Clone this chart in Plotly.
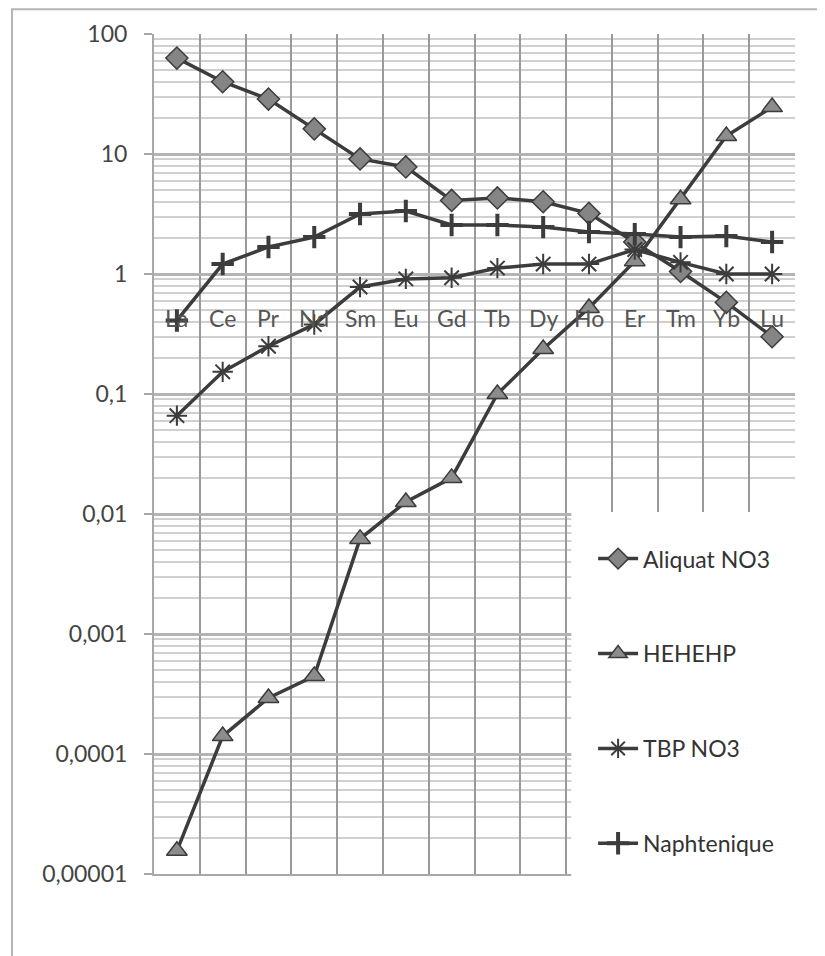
import plotly.graph_objects as go

categories = ["La", "Ce", "Pr", "Nd", "Sm", "Eu", "Gd", "Tb", "Dy", "Ho", "Er", "Tm", "Yb", "Lu"]

aliquat_no3 = [63, 40, 28.7, 16.2, 9.1, 7.8, 4.1, 4.3, 4.0, 3.2, 1.85, 1.05, 0.58, 0.30]
hehehp = [1.56e-5, 1.41e-4, 2.93e-4, 4.47e-4, 6.2e-3, 0.0126, 0.02, 0.10, 0.237, 0.52, 1.28, 4.2, 14.1, 24.6]
tbp_no3 = [0.066, 0.153, 0.25, 0.38, 0.78, 0.91, 0.93, 1.12, 1.21, 1.21, 1.6, 1.25, 1.0, 1.0]
naphtenique = [0.41, 1.21, 1.68, 2.03, 3.16, 3.35, 2.56, 2.56, 2.46, 2.24, 2.15, 2.03, 2.07, 1.85]

ytick_vals = [1e-5, 1e-4, 1e-3, 1e-2, 1e-1, 1, 10, 100]
ytick_text = ["0,00001", "0,0001", "0,001", "0,01", "0,1", "1", "10", "100"]
minor_vals = [m * d for d in [1e-5, 1e-4, 1e-3, 1e-2, 1e-1, 1, 10] for m in range(2, 10)]

LINE = "#3c3c3c"
FONT = "Lato, 'Open Sans', sans-serif"

series = [
    ("Aliquat NO3", aliquat_no3, dict(symbol="diamond", size=17, color="#858585", line=dict(color=LINE, width=1.5))),
    ("HEHEHP", hehehp, dict(symbol="triangle-up", size=18, color="#8c8c8c", line=dict(color=LINE, width=1.5))),
    ("TBP NO3", tbp_no3, dict(symbol="asterisk-open", size=17, color=LINE, line=dict(color=LINE, width=2))),
    ("Naphtenique", naphtenique, dict(symbol="cross-thin-open", size=16, color=LINE, line=dict(color=LINE, width=4))),
]

fig = go.Figure()
for i, (name, vals, mk) in enumerate(series):
    fig.add_trace(go.Scatter(
        x=categories, y=vals, name=name, mode="lines+markers",
        line=dict(color=LINE, width=3.5), marker=mk, legendgroup=f"g{i}",
    ))

annotations = [
    dict(x=c, y=0, xref="x", yref="y", yshift=-44, text=c, showarrow=False,
         font=dict(family=FONT, size=23, color="#555555"))
    for c in categories
]

shapes = [
    # outer chart border
    dict(type="rect", xref="paper", yref="paper", x0=-0.2215, x1=1.036, y0=-0.12, y1=1.0295,
         line=dict(color="#b5b5b5", width=2), fillcolor="rgba(0,0,0,0)", layer="below"),
    # legend area background
    dict(type="rect", xref="paper", yref="paper", x0=0.651, x1=1.02, y0=-0.02, y1=0.431,
         line=dict(width=0), fillcolor="white", layer="above"),
]

fig.update_layout(
    width=817, height=948,
    margin=dict(l=146, r=30, t=26, b=82),
    paper_bgcolor="white", plot_bgcolor="white",
    font=dict(family=FONT, size=23, color="#444444"),
    showlegend=True,
    legend=dict(x=0.685, y=0.401, xanchor="left", yanchor="top",
                traceorder="grouped", tracegroupgap=62,
                font=dict(family=FONT, size=23, color="#333333"),
                bgcolor="rgba(0,0,0,0)", itemwidth=40),
    annotations=annotations,
    shapes=shapes,
)
fig.update_xaxes(
    type="category", range=[-0.5, 13.5], tickson="boundaries",
    showgrid=True, gridcolor="#9a9a9a", gridwidth=1.5,
    showticklabels=False, ticks="",
    showline=True, linecolor="#a8a8a8", linewidth=2, mirror=False,
    zeroline=False,
)
fig.update_yaxes(
    type="log", range=[-5, 2],
    tickmode="array", tickvals=ytick_vals, ticktext=ytick_text,
    ticks="outside", ticklen=8, tickcolor="#a8a8a8", tickwidth=2,
    ticklabelstandoff=12,
    showgrid=True, gridcolor="#b4b4b4", gridwidth=3,
    minor=dict(tickmode="array", tickvals=minor_vals, showgrid=True,
               gridcolor="#d0d0d0", gridwidth=1.5, ticks=""),
    showline=True, linecolor="#a8a8a8", linewidth=2,
    tickfont=dict(family=FONT, size=23, color="#444444"),
    zeroline=False,
)

fig.write_html("out.html")
